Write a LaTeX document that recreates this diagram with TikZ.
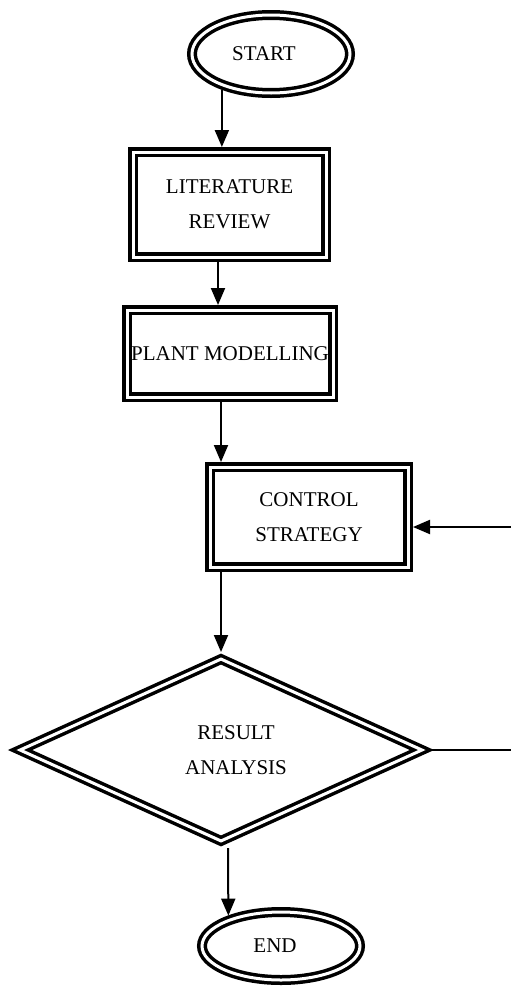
\documentclass[tikz,border=0pt]{standalone}
\usepackage{fontspec}
\setmainfont{Liberation Serif}
\usetikzlibrary{shapes.geometric,arrows.meta}

\begin{document}
\begin{tikzpicture}[x=1pt,y=-1pt,
    dbl/.style={draw, double, line width=3.5pt, double distance=3pt, outer sep=5pt,
        inner sep=0pt, align=center, font=\fontsize{21}{35}\selectfont},
    terminal/.style={dbl, ellipse},
    process/.style={dbl, rectangle},
    decision/.style={dbl, diamond, aspect=2.1},
    arr/.style={line width=2pt, -{Triangle[width=14pt,length=17pt]}}]
    \useasboundingbox (0,0) rectangle (511,991);

    \node[terminal, minimum width=158pt, minimum height=78pt] (start) at (271,54) {START\hspace*{14pt}};
    \node[process, minimum width=193pt, minimum height=105pt] (lit) at (229.5,204.5) {LITERATURE\\REVIEW};
    \node[process, minimum width=206pt, minimum height=87pt] (plant) at (230,353.5) {PLANT MODELLING};
    \node[process, minimum width=198pt, minimum height=100pt] (control) at (309,517) {CONTROL\\STRATEGY};
    \node[decision, minimum width=406pt, minimum height=186pt] (result) at (221,750)
        {\hspace*{30pt}RESULT\\\hspace*{30pt}ANALYSIS};
    \node[terminal, minimum width=158pt, minimum height=68pt] (end) at (281,946) {END\hspace*{12pt}};

    % feedback ends run off the right edge
    \coordinate (fbin) at (511,527);
    \coordinate (fbout) at (511,750);

    \draw[arr] (start.216) -- (start.216 |- lit.north);
    \draw[arr] ([xshift=-11.5pt]lit.south) -- ([xshift=-12pt]plant.north);
    \draw[arr] ([xshift=-9pt]plant.south) -- ([xshift=-88pt]control.north);
    \draw[arr] ([xshift=-88pt]control.south) -- (result.north);
    \draw[arr] ([xshift=7pt]result.south) -- (end.150);
    \draw[arr] (fbin) -- (fbin -| control.east);
    \draw[line width=2pt] (result.east) -- (fbout);
\end{tikzpicture}
\end{document}
